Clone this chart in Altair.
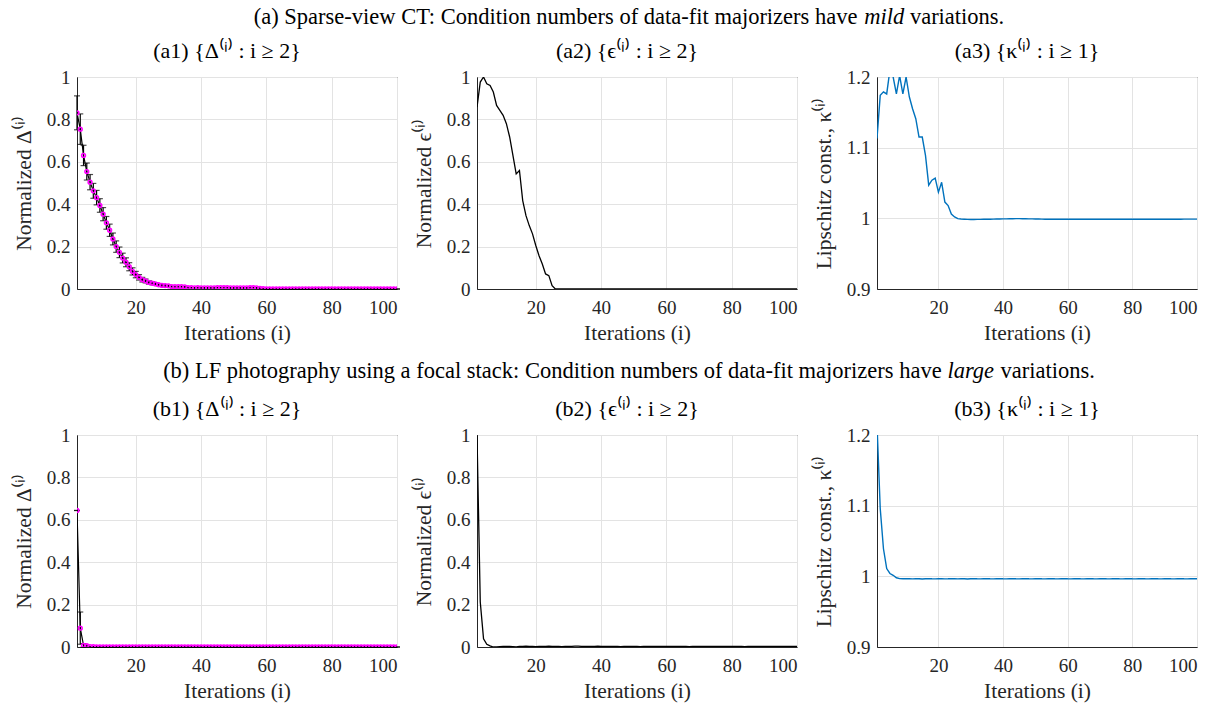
import altair as alt
import pandas as pd

FONT = "Liberation Serif"
TXT = "#262626"
MAGENTA = "#ff00ff"
BLUE = "#0072bd"

# ---------------- data ----------------
iters_from2 = list(range(2, 101))   # i = 2..100
iters_from1 = list(range(1, 101))   # i = 1..100

# (a1) normalized Delta, sparse-view CT
delta_a = [
    0.831, 0.754, 0.630, 0.554, 0.504, 0.463, 0.431, 0.394, 0.353, 0.312,
    0.277, 0.236, 0.200, 0.173, 0.146, 0.126, 0.105, 0.083, 0.068, 0.055,
    0.044, 0.038, 0.031, 0.027, 0.024, 0.020, 0.017, 0.016, 0.015, 0.011,
    0.011, 0.011, 0.011, 0.010, 0.006, 0.006, 0.005, 0.006, 0.005, 0.005,
    0.005, 0.005, 0.005, 0.006, 0.006, 0.006, 0.006, 0.005, 0.005, 0.005,
    0.005, 0.005, 0.005, 0.006, 0.006, 0.005, 0.003, 0.001, 0.000, 0.000,
    0.000, 0.000, 0.000, 0.000, 0.000, 0.000, 0.000, 0.000, 0.000, 0.000,
    0.000, 0.000, 0.000, 0.000, 0.000, 0.000, 0.000, 0.000, 0.000, 0.000,
    0.000, 0.000, 0.000, 0.000, 0.000, 0.000, 0.000, 0.000, 0.000, 0.000,
    0.000, 0.000, 0.000, 0.000, 0.000, 0.000, 0.000, 0.000, 0.000,
]
delta_a_err = [
    0.080, 0.072, 0.048, 0.040, 0.036, 0.035, 0.034, 0.032, 0.031, 0.030,
    0.029, 0.028, 0.027, 0.025, 0.023, 0.021, 0.019, 0.017, 0.015, 0.013,
    0.011, 0.009, 0.008, 0.007, 0.006, 0.005, 0.004, 0.004, 0.003, 0.002,
    0.002, 0.002, 0.002, 0.002, 0.001, 0.001, 0.001, 0.001, 0.001, 0.001,
    0.001, 0.001, 0.001, 0.001, 0.001, 0.001, 0.001, 0.001, 0.001, 0.001,
    0.001, 0.001, 0.001, 0.001, 0.001, 0.001, 0.001, 0.000, 0.000, 0.000,
    0.000, 0.000, 0.000, 0.000, 0.000, 0.000, 0.000, 0.000, 0.000, 0.000,
    0.000, 0.000, 0.000, 0.000, 0.000, 0.000, 0.000, 0.000, 0.000, 0.000,
    0.000, 0.000, 0.000, 0.000, 0.000, 0.000, 0.000, 0.000, 0.000, 0.000,
    0.000, 0.000, 0.000, 0.000, 0.000, 0.000, 0.000, 0.000, 0.000,
]

# (a2) normalized epsilon, sparse-view CT
eps_a = [
    0.858, 0.976, 1.000, 0.968, 0.960, 0.929, 0.866, 0.843, 0.819, 0.780,
    0.717, 0.630, 0.543, 0.559, 0.417, 0.346, 0.299, 0.260, 0.205, 0.157,
    0.118, 0.071, 0.063, 0.016, 0.000, 0.000, 0.000, 0.000, 0.000, 0.000,
    0.000, 0.000, 0.000, 0.000, 0.000, 0.000, 0.000, 0.000, 0.000, 0.000,
    0.000, 0.000, 0.000, 0.000, 0.000, 0.000, 0.000, 0.000, 0.000, 0.000,
    0.000, 0.000, 0.000, 0.000, 0.000, 0.000, 0.000, 0.000, 0.000, 0.000,
    0.000, 0.000, 0.000, 0.000, 0.000, 0.000, 0.000, 0.000, 0.000, 0.000,
    0.000, 0.000, 0.000, 0.000, 0.000, 0.000, 0.000, 0.000, 0.000, 0.000,
    0.000, 0.000, 0.000, 0.000, 0.000, 0.000, 0.000, 0.000, 0.000, 0.000,
    0.000, 0.000, 0.000, 0.000, 0.000, 0.000, 0.000, 0.000, 0.000,
]

# (a3) Lipschitz constant kappa, sparse-view CT
kappa_a = [
    1.113, 1.174, 1.179, 1.176, 1.210, 1.200, 1.176, 1.202, 1.176, 1.200,
    1.172, 1.155, 1.141, 1.115, 1.115, 1.089, 1.047, 1.054, 1.057, 1.037,
    1.051, 1.023, 1.018, 1.006, 1.002, 0.9995, 0.9990, 0.9987, 0.9985, 0.9984,
    0.9984, 0.9985, 0.9985, 0.9986, 0.9987, 0.9988, 0.9989, 0.9990, 0.9991, 0.9992,
    0.9993, 0.9994, 0.9995, 0.9996, 0.9996, 0.9995, 0.9994, 0.9993, 0.9992, 0.9991,
    0.9990, 0.9989, 0.9988, 0.9988, 0.9987, 0.9987, 0.9987, 0.9987, 0.9987, 0.9987,
    0.9987, 0.9987, 0.9987, 0.9987, 0.9987, 0.9988, 0.9988, 0.9988, 0.9988, 0.9988,
    0.9988, 0.9988, 0.9988, 0.9988, 0.9988, 0.9988, 0.9988, 0.9988, 0.9988, 0.9988,
    0.9988, 0.9988, 0.9988, 0.9988, 0.9988, 0.9988, 0.9988, 0.9988, 0.9988, 0.9988,
    0.9988, 0.9988, 0.9988, 0.9988, 0.9988, 0.9989, 0.9989, 0.9989, 0.9989, 0.9989,
]

# (b1) normalized Delta, LF photography
delta_b = [
    0.644, 0.089, 0.008, 0.006, 0.002, 0.001, 0.000, 0.000, 0.000, 0.000,
    0.000, 0.000, 0.000, 0.000, 0.000, 0.000, 0.000, 0.000, 0.000, 0.000,
    0.000, 0.000, 0.000, 0.000, 0.000, 0.000, 0.000, 0.000, 0.000, 0.000,
    0.000, 0.000, 0.000, 0.000, 0.000, 0.000, 0.000, 0.000, 0.000, 0.000,
    0.000, 0.000, 0.000, 0.000, 0.000, 0.000, 0.000, 0.000, 0.000, 0.000,
    0.000, 0.000, 0.000, 0.000, 0.000, 0.000, 0.000, 0.000, 0.000, 0.000,
    0.000, 0.000, 0.000, 0.000, 0.000, 0.000, 0.000, 0.000, 0.000, 0.000,
    0.000, 0.000, 0.000, 0.000, 0.000, 0.000, 0.000, 0.000, 0.000, 0.000,
    0.000, 0.000, 0.000, 0.000, 0.000, 0.000, 0.000, 0.000, 0.000, 0.000,
    0.000, 0.000, 0.000, 0.000, 0.000, 0.000, 0.000, 0.000, 0.000,
]
delta_b_err = [
    0.000, 0.076, 0.008, 0.004, 0.001, 0.000, 0.000, 0.000, 0.000, 0.000,
    0.000, 0.000, 0.000, 0.000, 0.000, 0.000, 0.000, 0.000, 0.000, 0.000,
    0.000, 0.000, 0.000, 0.000, 0.000, 0.000, 0.000, 0.000, 0.000, 0.000,
    0.000, 0.000, 0.000, 0.000, 0.000, 0.000, 0.000, 0.000, 0.000, 0.000,
    0.000, 0.000, 0.000, 0.000, 0.000, 0.000, 0.000, 0.000, 0.000, 0.000,
    0.000, 0.000, 0.000, 0.000, 0.000, 0.000, 0.000, 0.000, 0.000, 0.000,
    0.000, 0.000, 0.000, 0.000, 0.000, 0.000, 0.000, 0.000, 0.000, 0.000,
    0.000, 0.000, 0.000, 0.000, 0.000, 0.000, 0.000, 0.000, 0.000, 0.000,
    0.000, 0.000, 0.000, 0.000, 0.000, 0.000, 0.000, 0.000, 0.000, 0.000,
    0.000, 0.000, 0.000, 0.000, 0.000, 0.000, 0.000, 0.000, 0.000,
]

# (b2) normalized epsilon, LF photography
eps_b = [
    1.000, 0.212, 0.039, 0.013, 0.005, 0.000, 0.001, 0.002, 0.003, 0.003,
    0.003, 0.002, 0.001, 0.003, 0.003, 0.004, 0.003, 0.003, 0.002, 0.003,
    0.003, 0.003, 0.004, 0.003, 0.003, 0.003, 0.002, 0.003, 0.003, 0.003,
    0.004, 0.004, 0.003, 0.003, 0.003, 0.003, 0.003, 0.004, 0.003, 0.003,
    0.003, 0.003, 0.003, 0.003, 0.002, 0.003, 0.003, 0.003, 0.003, 0.003,
    0.002, 0.003, 0.003, 0.003, 0.003, 0.003, 0.003, 0.003, 0.003, 0.003,
    0.003, 0.003, 0.003, 0.003, 0.003, 0.002, 0.003, 0.003, 0.003, 0.003,
    0.003, 0.003, 0.003, 0.003, 0.003, 0.003, 0.003, 0.003, 0.003, 0.003,
    0.003, 0.003, 0.002, 0.003, 0.003, 0.003, 0.003, 0.003, 0.003, 0.003,
    0.003, 0.003, 0.003, 0.003, 0.003, 0.003, 0.003, 0.003, 0.003,
]

# (b3) Lipschitz constant kappa, LF photography
kappa_b = [
    1.215, 1.096, 1.039, 1.011, 1.004, 1.0015, 0.9980, 0.9967, 0.9965, 0.9968,
    0.9966, 0.9964, 0.9967, 0.9965, 0.9963, 0.9966, 0.9968, 0.9965, 0.9964, 0.9967,
    0.9966, 0.9964, 0.9965, 0.9968, 0.9966, 0.9964, 0.9967, 0.9965, 0.9963, 0.9966,
    0.9967, 0.9965, 0.9964, 0.9966, 0.9968, 0.9965, 0.9964, 0.9966, 0.9967, 0.9965,
    0.9964, 0.9966, 0.9967, 0.9965, 0.9964, 0.9966, 0.9968, 0.9965, 0.9964, 0.9966,
    0.9967, 0.9965, 0.9964, 0.9966, 0.9967, 0.9965, 0.9964, 0.9966, 0.9968, 0.9965,
    0.9964, 0.9966, 0.9967, 0.9965, 0.9964, 0.9966, 0.9967, 0.9965, 0.9964, 0.9966,
    0.9968, 0.9965, 0.9964, 0.9966, 0.9967, 0.9965, 0.9964, 0.9966, 0.9967, 0.9965,
    0.9964, 0.9966, 0.9968, 0.9965, 0.9964, 0.9966, 0.9967, 0.9965, 0.9964, 0.9966,
    0.9967, 0.9965, 0.9964, 0.9966, 0.9968, 0.9965, 0.9964, 0.9966, 0.9967, 0.9966,
]

for arr in (delta_a, delta_a_err, eps_a, delta_b, delta_b_err, eps_b):
    assert len(arr) == 99, len(arr)
for arr in (kappa_a, kappa_b):
    assert len(arr) == 100, len(arr)

# ---------------- text ----------------
ROW_TITLE_A = ["(a) Sparse-view CT: Condition numbers of data-fit majorizers have", "mild", "variations."]
ROW_TITLE_B = ["(b) LF photography using a focal stack: Condition numbers of data-fit majorizers have", "large", "variations."]
SUB_TITLES = ["(a1) {Δ⁽ⁱ⁾ : i ≥ 2}", "(a2) {ϵ⁽ⁱ⁾ : i ≥ 2}", "(a3) {κ⁽ⁱ⁾ : i ≥ 1}",
              "(b1) {Δ⁽ⁱ⁾ : i ≥ 2}", "(b2) {ϵ⁽ⁱ⁾ : i ≥ 2}", "(b3) {κ⁽ⁱ⁾ : i ≥ 1}"]
Y_DELTA = "Normalized Δ⁽ⁱ⁾"
Y_EPS = "Normalized ϵ⁽ⁱ⁾"
Y_KAPPA = "Lipschitz const., κ⁽ⁱ⁾"
X_TITLE = "Iterations (i)"

# ---------------- layout ----------------
W, H = 320, 212
GAP_X = 80
GAP_Y = 146
ROW_FS = 22.5
SUB_FS = 22

# Times metrics (Liberation Serif is metric compatible), per 1000 em
ROMAN = {" ": 250, "(": 333, ")": 333, "-": 333, ".": 250, ":": 278,
         "a": 444, "b": 500, "c": 444, "d": 500, "e": 444, "f": 333, "g": 500,
         "h": 500, "i": 278, "j": 278, "k": 500, "l": 278, "m": 778, "n": 500,
         "o": 500, "p": 500, "r": 333, "s": 389, "t": 278, "u": 500, "v": 500,
         "w": 722, "y": 500, "z": 444, "S": 556, "C": 667, "T": 611, "L": 611,
         "F": 556}
ITALIC = {"m": 722, "i": 278, "l": 278, "d": 500, "a": 500, "r": 389, "g": 500, "e": 444}

ONE = alt.Data(values=[{"k": 0}])


def tw(s, table, size):
    return sum(table.get(ch, 500) for ch in s) * size / 1000.0


def row_title_layers(parts, center_x, y):
    p1, p2, p3 = parts
    sp = tw(" ", ROMAN, ROW_FS)
    w1 = tw(p1, ROMAN, ROW_FS)
    w2 = tw(p2, ITALIC, ROW_FS)
    w3 = tw(p3, ROMAN, ROW_FS)
    total = w1 + sp + w2 + sp + w3
    start = center_x - total / 2
    common = dict(baseline="middle", font=FONT, fontSize=ROW_FS, color="black", align="left")
    l1 = alt.Chart(ONE).mark_text(**common).encode(
        x=alt.value(start), y=alt.value(y), text=alt.value(p1))
    l2 = alt.Chart(ONE).mark_text(fontStyle="italic", **common).encode(
        x=alt.value(start + w1 + sp), y=alt.value(y), text=alt.value(p2))
    l3 = alt.Chart(ONE).mark_text(**common).encode(
        x=alt.value(start + w1 + sp + w2 + sp), y=alt.value(y), text=alt.value(p3))
    return [l1, l2, l3]


def sub_layer(t):
    return alt.Chart(ONE).mark_text(baseline="middle", align="center", font=FONT,
                                    fontSize=SUB_FS, color="black").encode(
        x=alt.value(W / 2 - 10), y=alt.value(-26), text=alt.value(t))


def x_enc(lo):
    return alt.X("i:Q", scale=alt.Scale(domain=[lo, 100], nice=False, zero=False),
                 axis=alt.Axis(values=[20, 40, 60, 80, 100], format="~r", title=X_TITLE))


def delta_panel(vals, errs, sub, extra):
    df = pd.DataFrame({"i": iters_from2, "v": vals,
                       "lo": [v - e for v, e in zip(vals, errs)],
                       "hi": [v + e for v, e in zip(vals, errs)]})
    ys = alt.Scale(domain=[0, 1], nice=False)
    ya = alt.Axis(values=[0, 0.2, 0.4, 0.6, 0.8, 1], format="~r", title=Y_DELTA)
    base = alt.Chart(df)
    err = base.mark_errorbar(ticks={"size": 6}, color="black", thickness=1.2).encode(
        x=x_enc(2), y=alt.Y("lo:Q", scale=ys, axis=ya), y2="hi:Q")
    line = base.mark_line(color="black", strokeWidth=1.2, clip=True).encode(
        x=x_enc(2), y=alt.Y("v:Q", scale=ys, axis=ya))
    pts = base.mark_point(shape="circle", filled=False, color=MAGENTA, size=14,
                          strokeWidth=1.6, opacity=1, clip=True).encode(
        x=x_enc(2), y=alt.Y("v:Q", scale=ys, axis=ya))
    return alt.layer(err, line, pts, sub_layer(sub), *extra).properties(width=W, height=H)


def eps_panel(vals, sub, extra):
    df = pd.DataFrame({"i": iters_from2, "v": vals})
    ys = alt.Scale(domain=[0, 1], nice=False)
    ya = alt.Axis(values=[0, 0.2, 0.4, 0.6, 0.8, 1], format="~r", title=Y_EPS)
    line = alt.Chart(df).mark_line(color="black", strokeWidth=1.3, clip=True).encode(
        x=x_enc(2), y=alt.Y("v:Q", scale=ys, axis=ya))
    return alt.layer(line, sub_layer(sub), *extra).properties(width=W, height=H)


def kappa_panel(vals, sub, extra):
    df = pd.DataFrame({"i": iters_from1, "v": vals})
    ys = alt.Scale(domain=[0.9, 1.2], nice=False)
    ya = alt.Axis(values=[0.9, 1.0, 1.1, 1.2], format="~r", title=Y_KAPPA)
    line = alt.Chart(df).mark_line(color=BLUE, strokeWidth=1.4, clip=True).encode(
        x=x_enc(1), y=alt.Y("v:Q", scale=ys, axis=ya))
    return alt.layer(line, sub_layer(sub), *extra).properties(width=W, height=H)


# row titles are centred on the whole figure; the middle panel starts W+GAP_X to the right
center_in_mid = (3 * W + 2 * GAP_X) / 2 - (W + GAP_X) - 8

a1 = delta_panel(delta_a, delta_a_err, SUB_TITLES[0], [])
a2 = eps_panel(eps_a, SUB_TITLES[1], row_title_layers(ROW_TITLE_A, center_in_mid, -60))
a3 = kappa_panel(kappa_a, SUB_TITLES[2], [])
b1 = delta_panel(delta_b, delta_b_err, SUB_TITLES[3], [])
b2 = eps_panel(eps_b, SUB_TITLES[4], row_title_layers(ROW_TITLE_B, center_in_mid, -64))
b3 = kappa_panel(kappa_b, SUB_TITLES[5], [])

chart = alt.concat(a1, a2, a3, b1, b2, b3, columns=3,
                   spacing={"row": GAP_Y, "column": GAP_X}, bounds="flush").properties(
    padding={"left": 12, "top": 5, "right": 5, "bottom": 2}
).configure(background="white").configure_axis(
    labelFont=FONT, labelFontSize=19, labelColor=TXT,
    titleFont=FONT, titleFontSize=21.5, titleColor=TXT, titleFontWeight="normal",
    gridColor="#e3e3e3", gridWidth=1, domainColor=TXT, domainWidth=1,
    tickSize=0, labelPadding=7, titlePadding=11,
).configure_axisX(labelPadding=9, titlePadding=5).configure_view(
    stroke=TXT, strokeWidth=1
)

chart.save("out.html", embed_options={"renderer": "svg", "actions": False})
